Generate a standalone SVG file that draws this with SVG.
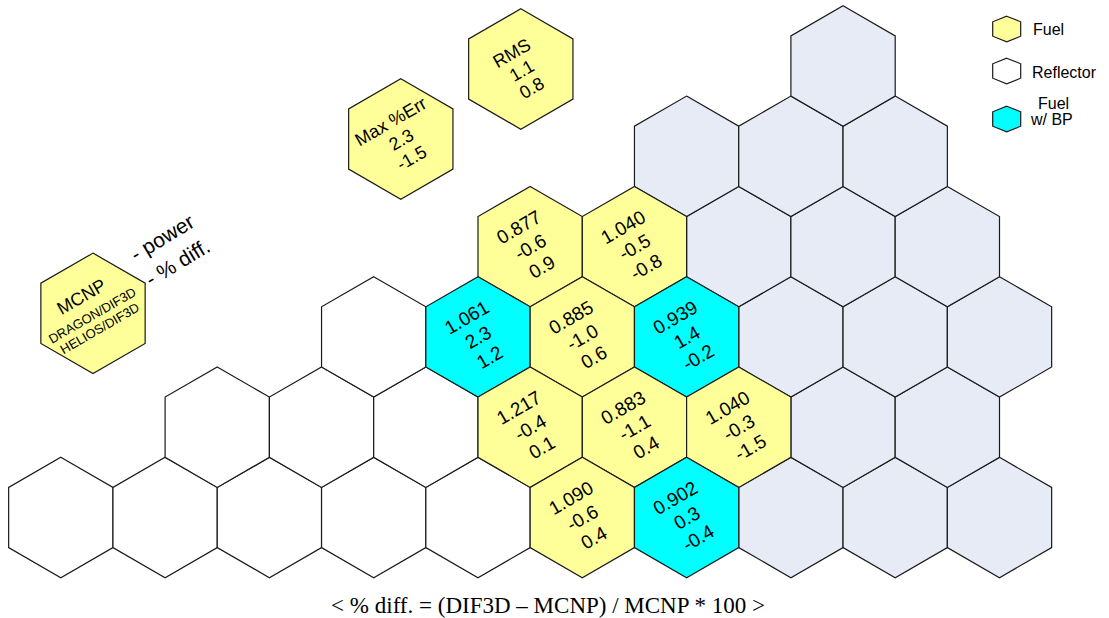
<svg xmlns="http://www.w3.org/2000/svg" xmlns:xlink="http://www.w3.org/1999/xlink" width="1109" height="618" viewBox="0 0 1109 618">
<defs>
<style>
.h{stroke:#1a1a1a;stroke-width:1.2;stroke-linejoin:miter}
.fuel{fill:#FFFF99}
.bp{fill:#00FFFF}
.refl{fill:#FFFFFF}
.grey{fill:#E6EBF6}
.t{font-family:"Liberation Sans",Arial,sans-serif;font-size:19px;fill:#000;text-anchor:middle}
.lg{font-family:"Liberation Sans",Arial,sans-serif;font-size:16px;fill:#000}
.cap{font-family:"Liberation Serif","Times New Roman",serif;font-size:23px;fill:#000;text-anchor:middle}
</style>
<polygon id="hex" points="0,-60.2 52.15,-30.1 52.15,30.1 0,60.2 -52.15,30.1 -52.15,-30.1"/>
<polygon id="shex" points="0,-12.8 14,-7.2 14,7.2 0,12.8 -14,7.2 -14,-7.2"/>
</defs>
<rect width="1109" height="618" fill="#fff"/>

<g id="reflector-white">
<use href="#hex" class="h refl" x="60.8" y="517.5"/>
<use href="#hex" class="h refl" x="165.1" y="517.5"/>
<use href="#hex" class="h refl" x="269.4" y="517.5"/>
<use href="#hex" class="h refl" x="373.7" y="517.5"/>
<use href="#hex" class="h refl" x="478" y="517.5"/>
<use href="#hex" class="h refl" x="217.25" y="427.2"/>
<use href="#hex" class="h refl" x="321.55" y="427.2"/>
<use href="#hex" class="h refl" x="425.85" y="427.2"/>
<use href="#hex" class="h refl" x="373.7" y="336.9"/>
</g>

<g id="reflector-grey">
<use href="#hex" class="h grey" x="790.9" y="517.5"/>
<use href="#hex" class="h grey" x="895.2" y="517.5"/>
<use href="#hex" class="h grey" x="999.5" y="517.5"/>
<use href="#hex" class="h grey" x="843.05" y="427.2"/>
<use href="#hex" class="h grey" x="947.35" y="427.2"/>
<use href="#hex" class="h grey" x="790.9" y="336.9"/>
<use href="#hex" class="h grey" x="895.2" y="336.9"/>
<use href="#hex" class="h grey" x="999.5" y="336.9"/>
<use href="#hex" class="h grey" x="738.75" y="246.6"/>
<use href="#hex" class="h grey" x="843.05" y="246.6"/>
<use href="#hex" class="h grey" x="947.35" y="246.6"/>
<use href="#hex" class="h grey" x="686.6" y="156.3"/>
<use href="#hex" class="h grey" x="790.9" y="156.3"/>
<use href="#hex" class="h grey" x="895.2" y="156.3"/>
<use href="#hex" class="h grey" x="843.05" y="66"/>
</g>

<g id="a-0877">
<use href="#hex" class="h fuel" x="530.15" y="246.6"/>
<g transform="translate(530.15,246.6) rotate(-30)"><text class="t" y="-16">0.877</text><text class="t" y="7">-0.6</text><text class="t" y="30">0.9</text></g>
</g>
<g id="a-1040a">
<use href="#hex" class="h fuel" x="634.45" y="246.6"/>
<g transform="translate(634.45,246.6) rotate(-30)"><text class="t" y="-16">1.040</text><text class="t" y="7">-0.5</text><text class="t" y="30">-0.8</text></g>
</g>
<g id="a-1061">
<use href="#hex" class="h bp" x="478" y="336.9"/>
<g transform="translate(478,336.9) rotate(-30)"><text class="t" y="-16">1.061</text><text class="t" y="7">2.3</text><text class="t" y="30">1.2</text></g>
</g>
<g id="a-0885">
<use href="#hex" class="h fuel" x="582.3" y="336.9"/>
<g transform="translate(582.3,336.9) rotate(-30)"><text class="t" y="-16">0.885</text><text class="t" y="7">-1.0</text><text class="t" y="30">0.6</text></g>
</g>
<g id="a-0939">
<use href="#hex" class="h bp" x="686.6" y="336.9"/>
<g transform="translate(686.6,336.9) rotate(-30)"><text class="t" y="-16">0.939</text><text class="t" y="7">1.4</text><text class="t" y="30">-0.2</text></g>
</g>
<g id="a-1217">
<use href="#hex" class="h fuel" x="530.15" y="427.2"/>
<g transform="translate(530.15,427.2) rotate(-30)"><text class="t" y="-16">1.217</text><text class="t" y="7">-0.4</text><text class="t" y="30">0.1</text></g>
</g>
<g id="a-0883">
<use href="#hex" class="h fuel" x="634.45" y="427.2"/>
<g transform="translate(634.45,427.2) rotate(-30)"><text class="t" y="-16">0.883</text><text class="t" y="7">-1.1</text><text class="t" y="30">0.4</text></g>
</g>
<g id="a-1040b">
<use href="#hex" class="h fuel" x="738.75" y="427.2"/>
<g transform="translate(738.75,427.2) rotate(-30)"><text class="t" y="-16">1.040</text><text class="t" y="7">-0.3</text><text class="t" y="30">-1.5</text></g>
</g>
<g id="a-1090">
<use href="#hex" class="h fuel" x="582.3" y="517.5"/>
<g transform="translate(582.3,517.5) rotate(-30)"><text class="t" y="-16">1.090</text><text class="t" y="7">-0.6</text><text class="t" y="30">0.4</text></g>
</g>
<g id="a-0902">
<use href="#hex" class="h bp" x="686.6" y="517.5"/>
<g transform="translate(686.6,517.5) rotate(-30)"><text class="t" y="-16">0.902</text><text class="t" y="7">0.3</text><text class="t" y="30">-0.4</text></g>
</g>

<g id="key-hex">
<use href="#hex" class="h fuel" x="93" y="313.3"/>
<g transform="translate(91,313.3) rotate(-30)">
<text class="t" style="font-size:18px" y="-13">MCNP</text>
<text class="t" style="font-size:13px" y="7">DRAGON/DIF3D</text>
<text class="t" style="font-size:13px" y="22">HELIOS/DIF3D</text>
</g>
</g>
<g id="key-labels">
<text class="lg" style="font-size:21px" transform="translate(136,262) rotate(-31)">- power</text>
<text class="lg" style="font-size:21px" transform="translate(151,287) rotate(-31)">- % diff.</text>
</g>

<g id="max-err">
<use href="#hex" class="h fuel" x="400.8" y="139"/>
<g transform="translate(400.8,139) rotate(-30)"><text class="t" style="font-size:18px" y="-14">Max %Err</text><text class="t" style="font-size:18px" y="7">2.3</text><text class="t" style="font-size:18px" y="28">-1.5</text></g>
</g>
<g id="rms">
<use href="#hex" class="h fuel" x="520.8" y="69"/>
<g transform="translate(520.8,69) rotate(-30)"><text class="t" style="font-size:18px" y="-12">RMS</text><text class="t" style="font-size:18px" y="8">1.1</text><text class="t" style="font-size:18px" y="28">0.8</text></g>
</g>

<g id="legend">
<use href="#shex" class="h fuel" x="1006.7" y="29"/>
<text class="lg" x="1033" y="35">Fuel</text>
<use href="#shex" class="h refl" x="1006.7" y="71"/>
<text class="lg" x="1032" y="78">Reflector</text>
<use href="#shex" class="h bp" x="1006.7" y="119"/>
<text class="lg" x="1038" y="109">Fuel</text>
<text class="lg" x="1031" y="125">w/ BP</text>
</g>

<g id="caption">
<text class="cap" x="548" y="613">&lt; % diff. = (DIF3D – MCNP) / MCNP * 100 &gt;</text>
</g>
</svg>
